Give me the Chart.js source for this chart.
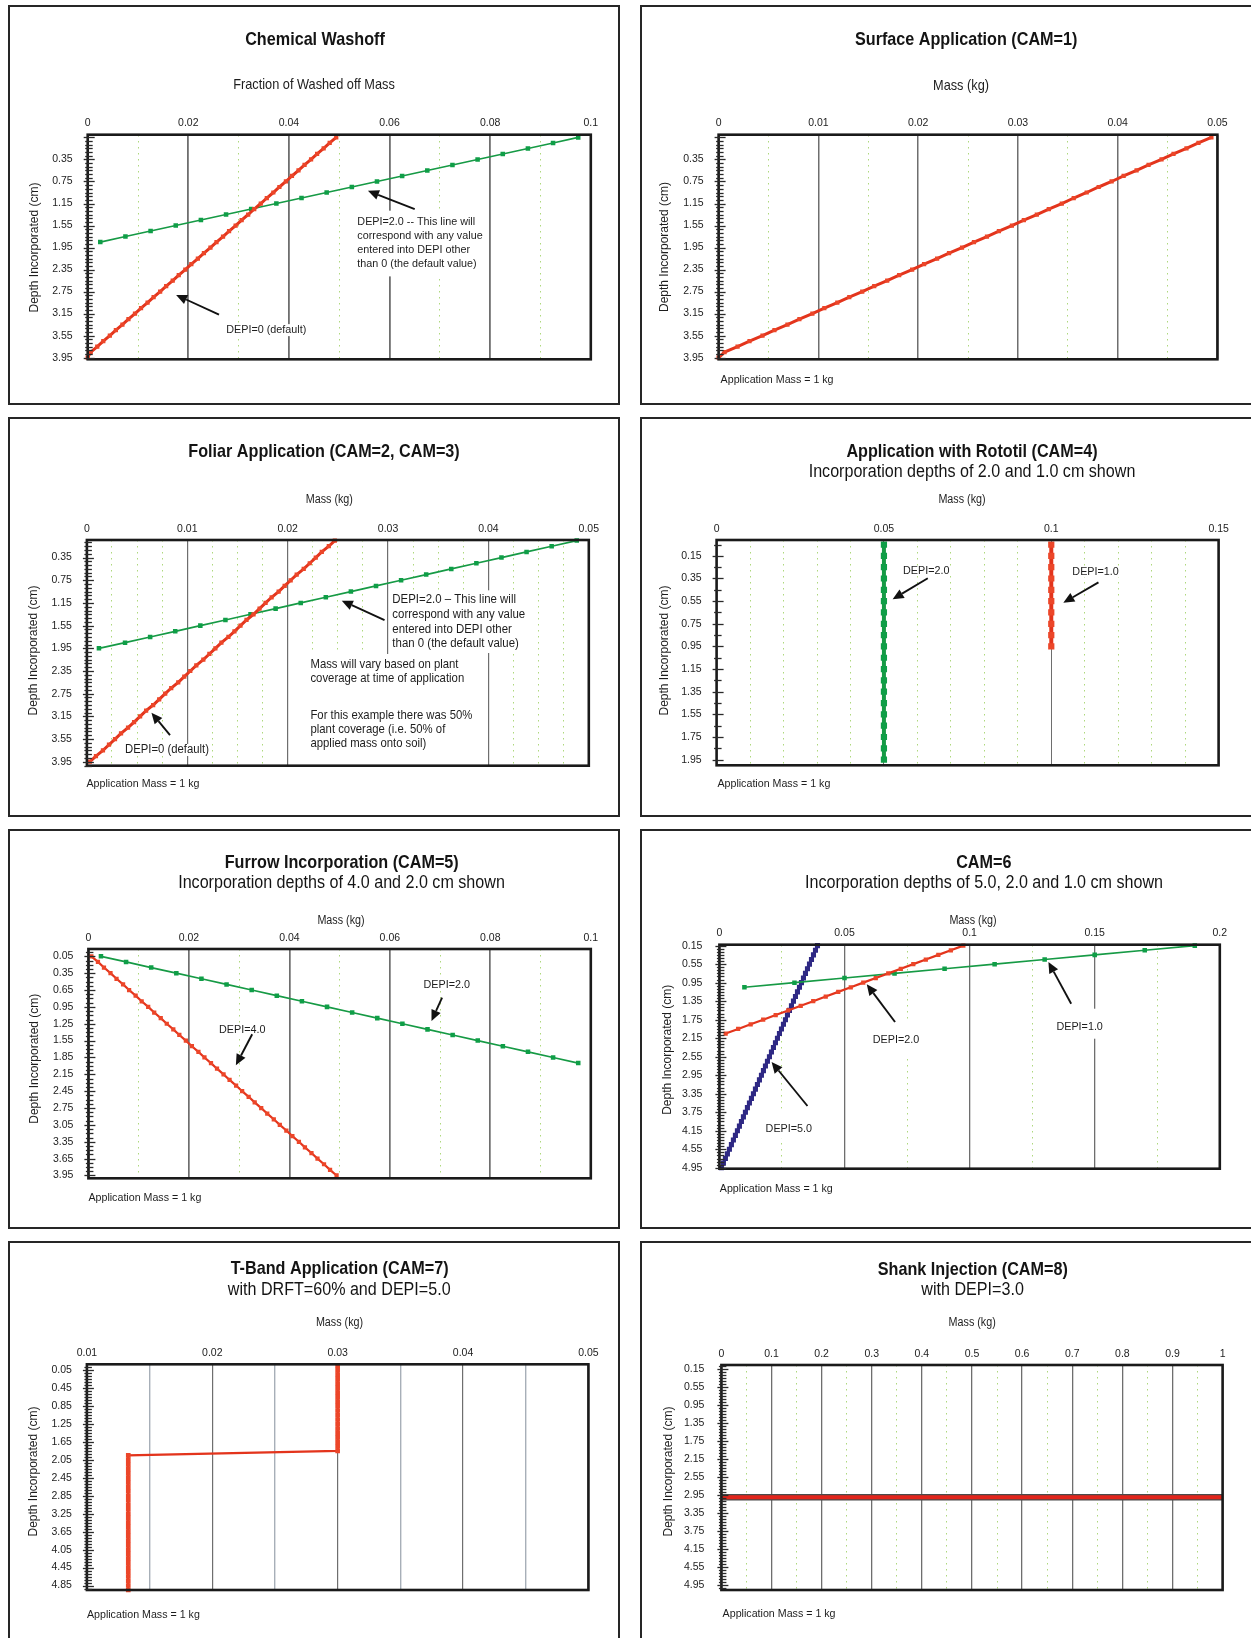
<!DOCTYPE html>
<html>
<head>
<meta charset="utf-8">
<title>Chemical application methods – mass vs. depth</title>
<script src="https://cdn.jsdelivr.net/npm/chart.js@4.4.1/dist/chart.umd.min.js"></script>
<style>
  html, body { margin: 0; padding: 0; background: #fff; }
  #page { position: relative; width: 1251px; height: 1638px; overflow: hidden; background: #fff; }
  .panel { position: absolute; border: 2px solid #262626; box-sizing: border-box; background: #fff; }
  .panel canvas { position: absolute; left: 0; top: 0; }
</style>
</head>
<body>
<div id="page"></div>
<script>
// ---------------------------------------------------------------------------
// Depth grids (cm)
// ---------------------------------------------------------------------------
const depthM005to395 = [-0.05, 0.05, 0.15, 0.25, 0.35, 0.45, 0.55, 0.65, 0.75, 0.85,
  0.95, 1.05, 1.15, 1.25, 1.35, 1.45, 1.55, 1.65, 1.75, 1.85,
  1.95, 2.05, 2.15, 2.25, 2.35, 2.45, 2.55, 2.65, 2.75, 2.85,
  2.95, 3.05, 3.15, 3.25, 3.35, 3.45, 3.55, 3.65, 3.75, 3.85, 3.95];
const depthM005to185 = [-0.05, 0.05, 0.15, 0.25, 0.35, 0.45, 0.55, 0.65, 0.75, 0.85,
  0.95, 1.05, 1.15, 1.25, 1.35, 1.45, 1.55, 1.65, 1.75, 1.85];
const depth005to395 = [0.05, 0.15, 0.25, 0.35, 0.45, 0.55, 0.65, 0.75, 0.85, 0.95,
  1.05, 1.15, 1.25, 1.35, 1.45, 1.55, 1.65, 1.75, 1.85, 1.95,
  2.05, 2.15, 2.25, 2.35, 2.45, 2.55, 2.65, 2.75, 2.85, 2.95,
  3.05, 3.15, 3.25, 3.35, 3.45, 3.55, 3.65, 3.75, 3.85, 3.95];
const depth005to195 = [0.05, 0.15, 0.25, 0.35, 0.45, 0.55, 0.65, 0.75, 0.85, 0.95,
  1.05, 1.15, 1.25, 1.35, 1.45, 1.55, 1.65, 1.75, 1.85, 1.95];
const depth005to095 = [0.05, 0.15, 0.25, 0.35, 0.45, 0.55, 0.65, 0.75, 0.85, 0.95];
const depth015to495 = [0.15, 0.25, 0.35, 0.45, 0.55, 0.65, 0.75, 0.85, 0.95, 1.05,
  1.15, 1.25, 1.35, 1.45, 1.55, 1.65, 1.75, 1.85, 1.95, 2.05,
  2.15, 2.25, 2.35, 2.45, 2.55, 2.65, 2.75, 2.85, 2.95, 3.05,
  3.15, 3.25, 3.35, 3.45, 3.55, 3.65, 3.75, 3.85, 3.95, 4.05,
  4.15, 4.25, 4.35, 4.45, 4.55, 4.65, 4.75, 4.85, 4.95];
const depth015to205 = [0.15, 0.25, 0.35, 0.45, 0.55, 0.65, 0.75, 0.85, 0.95, 1.05,
  1.15, 1.25, 1.35, 1.45, 1.55, 1.65, 1.75, 1.85, 1.95, 2.05];
const depth015to105 = [0.15, 0.25, 0.35, 0.45, 0.55, 0.65, 0.75, 0.85, 0.95, 1.05];
const tbandDepth = [-0.05, 0.05, 0.15, 0.25, 0.35, 0.45, 0.55, 0.65, 0.75, 0.85,
  0.95, 1.05, 1.15, 1.25, 1.35, 1.45, 1.55, 1.65, 1.75, 1.85,
  1.95, 2.05, 2.15, 2.25, 2.35, 2.45, 2.55, 2.65, 2.75, 2.85,
  2.95, 3.05, 3.15, 3.25, 3.35, 3.45, 3.55, 3.65, 3.75, 3.85,
  3.95, 4.05, 4.15, 4.25, 4.35, 4.45, 4.55, 4.65, 4.75, 4.85, 4.95];
const shankDepth = [3.0, 3.0];

// ---------------------------------------------------------------------------
// Mass per depth (kg, application mass = 1 kg)
// ---------------------------------------------------------------------------
// DEPI=0 default: linear over 4 cm
const washoffMassDefault = [0.0494, 0.0481, 0.0469, 0.0456, 0.0444, 0.0431, 0.0419, 0.0406, 0.0394, 0.0381,
  0.0369, 0.0356, 0.0344, 0.0331, 0.0319, 0.0306, 0.0294, 0.0281, 0.0269, 0.0256,
  0.0244, 0.0231, 0.0219, 0.0206, 0.0194, 0.0181, 0.0169, 0.0156, 0.0144, 0.0131,
  0.0119, 0.0106, 0.0094, 0.0081, 0.0069, 0.0056, 0.0044, 0.0031, 0.0019, 0.0006, 0];
const washoffMassDepi2 = [0.0975, 0.0925, 0.0875, 0.0825, 0.0775, 0.0725, 0.0675, 0.0625, 0.0575, 0.0525,
  0.0475, 0.0425, 0.0375, 0.0325, 0.0275, 0.0225, 0.0175, 0.0125, 0.0075, 0.0025];
const surfaceMass = [0.0494, 0.0481, 0.0469, 0.0456, 0.0444, 0.0431, 0.0419, 0.0406, 0.0394, 0.0381,
  0.0369, 0.0356, 0.0344, 0.0331, 0.0319, 0.0306, 0.0294, 0.0281, 0.0269, 0.0256,
  0.0244, 0.0231, 0.0219, 0.0206, 0.0194, 0.0181, 0.0169, 0.0156, 0.0144, 0.0131,
  0.0119, 0.0106, 0.0094, 0.0081, 0.0069, 0.0056, 0.0044, 0.0031, 0.0019, 0.0006, 0];
const foliarMassDefault = [0.0247, 0.0241, 0.0234, 0.0228, 0.0222, 0.0216, 0.0209, 0.0203, 0.0197, 0.0191,
  0.0184, 0.0178, 0.0172, 0.0166, 0.0159, 0.0153, 0.0147, 0.0141, 0.0134, 0.0128,
  0.0122, 0.0116, 0.0109, 0.0103, 0.0097, 0.0091, 0.0084, 0.0078, 0.0072, 0.0066,
  0.0059, 0.0053, 0.0047, 0.0041, 0.0034, 0.0028, 0.0022, 0.0016, 0.0009, 0.0003];
const foliarMassDepi2 = [0.0488, 0.0463, 0.0438, 0.0413, 0.0388, 0.0363, 0.0338, 0.0313, 0.0288, 0.0263,
  0.0238, 0.0213, 0.0188, 0.0163, 0.0138, 0.0113, 0.0088, 0.0063, 0.0038, 0.0012];
const rototilMassDepi2 = [0.05, 0.05, 0.05, 0.05, 0.05, 0.05, 0.05, 0.05, 0.05, 0.05,
  0.05, 0.05, 0.05, 0.05, 0.05, 0.05, 0.05, 0.05, 0.05, 0.05];
const rototilMassDepi1 = [0.1, 0.1, 0.1, 0.1, 0.1, 0.1, 0.1, 0.1, 0.1, 0.1];
const furrowMassDepi4 = [0.0006, 0.0019, 0.0031, 0.0044, 0.0056, 0.0069, 0.0081, 0.0094, 0.0106, 0.0119,
  0.0131, 0.0144, 0.0156, 0.0169, 0.0181, 0.0194, 0.0206, 0.0219, 0.0231, 0.0244,
  0.0256, 0.0269, 0.0281, 0.0294, 0.0306, 0.0319, 0.0331, 0.0344, 0.0356, 0.0369,
  0.0381, 0.0394, 0.0406, 0.0419, 0.0431, 0.0444, 0.0456, 0.0469, 0.0481, 0.0494];
const furrowMassDepi2 = [0.0025, 0.0075, 0.0125, 0.0175, 0.0225, 0.0275, 0.0325, 0.0375, 0.0425, 0.0475,
  0.0525, 0.0575, 0.0625, 0.0675, 0.0725, 0.0775, 0.0825, 0.0875, 0.0925, 0.0975];
const cam6MassDepi5 = [0.0392, 0.0384, 0.0376, 0.0368, 0.0360, 0.0352, 0.0344, 0.0336, 0.0328, 0.0320,
  0.0312, 0.0304, 0.0296, 0.0288, 0.0280, 0.0272, 0.0264, 0.0256, 0.0248, 0.0240,
  0.0232, 0.0224, 0.0216, 0.0208, 0.0200, 0.0192, 0.0184, 0.0176, 0.0168, 0.0160,
  0.0152, 0.0144, 0.0136, 0.0128, 0.0120, 0.0112, 0.0104, 0.0096, 0.0088, 0.0080,
  0.0072, 0.0064, 0.0056, 0.0048, 0.0040, 0.0032, 0.0024, 0.0016, 0.0008];
const cam6MassDepi2 = [0.0975, 0.0925, 0.0875, 0.0825, 0.0775, 0.0725, 0.0675, 0.0625, 0.0575, 0.0525,
  0.0475, 0.0425, 0.0375, 0.0325, 0.0275, 0.0225, 0.0175, 0.0125, 0.0075, 0.0025];
const cam6MassDepi1 = [0.19, 0.17, 0.15, 0.13, 0.11, 0.09, 0.07, 0.05, 0.03, 0.01];
const tbandMass = [0.03, 0.03, 0.03, 0.03, 0.03, 0.03, 0.03, 0.03, 0.03, 0.03,
  0.03, 0.03, 0.03, 0.03, 0.03, 0.03, 0.03, 0.03, 0.03, 0.03,
  0.0133, 0.0133, 0.0133, 0.0133, 0.0133, 0.0133, 0.0133, 0.0133, 0.0133, 0.0133,
  0.0133, 0.0133, 0.0133, 0.0133, 0.0133, 0.0133, 0.0133, 0.0133, 0.0133, 0.0133,
  0.0133, 0.0133, 0.0133, 0.0133, 0.0133, 0.0133, 0.0133, 0.0133, 0.0133, 0.0133, 0.0133];
const shankMass = [0, 1];

// ---------------------------------------------------------------------------
// Tick labels
// ---------------------------------------------------------------------------
const massLabels010 = ['0', '0.02', '0.04', '0.06', '0.08', '0.1'];
const massLabels005 = ['0', '0.01', '0.02', '0.03', '0.04', '0.05'];
const rototilXLabels = ['0', '0.05', '0.1', '0.15'];
const cam6XLabels = ['0', '0.05', '0.1', '0.15', '0.2'];
const tbandXLabels = ['0.01', '0.02', '0.03', '0.04', '0.05'];
const shankXLabels = ['0', '0.1', '0.2', '0.3', '0.4', '0.5', '0.6', '0.7', '0.8', '0.9', '1'];
const depthLabels4cm = ['0.35', '0.75', '1.15', '1.55', '1.95', '2.35', '2.75', '3.15', '3.55', '3.95'];
const rototilYLabels = ['0.15', '0.35', '0.55', '0.75', '0.95', '1.15', '1.35', '1.55', '1.75', '1.95'];
const furrowYLabels = ['0.05', '0.35', '0.65', '0.95', '1.25', '1.55', '1.85', '2.15', '2.45', '2.75', '3.05', '3.35', '3.65', '3.95'];
const depthLabels5cm = ['0.15', '0.55', '0.95', '1.35', '1.75', '2.15', '2.55', '2.95', '3.35', '3.75', '4.15', '4.55', '4.95'];
const tbandYLabels = ['0.05', '0.45', '0.85', '1.25', '1.65', '2.05', '2.45', '2.85', '3.25', '3.65', '4.05', '4.45', '4.85'];

// ---------------------------------------------------------------------------
// Drawing helpers
// ---------------------------------------------------------------------------
const FONT = '"Liberation Sans", Arial, Helvetica, sans-serif';
const INK = '#1d1d1d';
const RED = '#e3341c', RED_PT = '#ec4629';
const GREEN = '#169a45', GREEN_PT = '#0f9e47';
const BLUE = '#2e2884';

function setFont(ctx, size, bold) { ctx.font = (bold ? 'bold ' : '') + size + 'px ' + FONT; }

function drawText(ctx, s, x, y, o) {
  const size = o.size || 12, sx = o.sx || 1;
  ctx.save();
  setFont(ctx, size, o.bold);
  const w = ctx.measureText(s).width * sx;
  const x0 = o.align === 'center' ? x - w / 2 : (o.align === 'right' ? x - w : x);
  ctx.translate(x0, y);
  ctx.scale(sx, 1);
  ctx.fillStyle = o.color || INK;
  ctx.textAlign = 'left';
  ctx.textBaseline = 'middle';
  ctx.fillText(s, 0, 0);
  ctx.restore();
  return w;
}

function drawVertical(ctx, s, x, y, size) {
  ctx.save();
  setFont(ctx, size, false);
  ctx.translate(x, y);
  ctx.rotate(-Math.PI / 2);
  ctx.fillStyle = INK;
  ctx.textAlign = 'center';
  ctx.textBaseline = 'middle';
  ctx.fillText(s, 0, 0);
  ctx.restore();
}

function drawArrow(ctx, x1, y1, x2, y2) {
  const a = Math.atan2(y2 - y1, x2 - x1), hl = 11, hw = 5;
  const bx = x2 - hl * Math.cos(a), by = y2 - hl * Math.sin(a);
  ctx.save();
  ctx.strokeStyle = '#111'; ctx.fillStyle = '#111'; ctx.lineWidth = 1.9;
  ctx.beginPath(); ctx.moveTo(x1, y1); ctx.lineTo(bx, by); ctx.stroke();
  ctx.beginPath();
  ctx.moveTo(x2, y2);
  ctx.lineTo(bx + hw * Math.sin(a), by - hw * Math.cos(a));
  ctx.lineTo(bx - hw * Math.sin(a), by + hw * Math.cos(a));
  ctx.closePath(); ctx.fill();
  ctx.restore();
}

// Ticks: labelled values from the label list, with evenly spaced unlabelled ticks between them
function tickList(labels, minorDiv, min, max) {
  const v0 = Number(labels[0]);
  const step = (Number(labels[1]) - v0) / minorDiv;
  const eps = step * 1e-3;
  const out = [];
  for (let k = Math.ceil((min - v0) / step - 1e-6); v0 + k * step <= max + eps; k++) {
    const major = ((k % minorDiv) + minorDiv) % minorDiv === 0;
    const li = major ? Math.round(k / minorDiv) : -1;
    out.push({ value: +(v0 + k * step).toFixed(6), major: major,
               text: (li >= 0 && li < labels.length) ? labels[li] : '' });
  }
  return out;
}

function series(xs, ys, style) {
  return Object.assign({
    data: xs.map((v, i) => ({ x: v, y: ys[i] })),
    showLine: true, tension: 0, fill: false, pointStyle: 'rect', pointBorderWidth: 0, clip: 6
  }, style);
}

const redThick  = { borderColor: RED, borderWidth: 3, pointBackgroundColor: RED_PT, pointRadius: 3 };
const redMid    = { borderColor: RED, borderWidth: 2.2, pointBackgroundColor: RED_PT, pointRadius: 3 };
const greenLine = { borderColor: GREEN, borderWidth: 1.7, pointBackgroundColor: GREEN_PT, pointRadius: 3.2 };
const greenWide = { borderColor: GREEN, borderWidth: 4, pointBackgroundColor: GREEN_PT, pointRadius: 4.4 };
const redWide   = { borderColor: RED, borderWidth: 4, pointBackgroundColor: RED_PT, pointRadius: 4.4 };
const blueDense = { borderColor: BLUE, borderWidth: 3, pointBackgroundColor: BLUE, pointRadius: 3.6 };
const redDense  = { borderColor: RED, borderWidth: 2.4, pointBackgroundColor: RED_PT, pointRadius: 3.3 };

const GRID_MAJOR = '#6e6e6e';
const GRID_MINOR = 'rgba(140,200,70,0.7)';
const GRID_DASH = [1.5, 4.5];

// ---------------------------------------------------------------------------
// Panels
// ---------------------------------------------------------------------------
const NOTE = { size: 11.6, sx: 0.93, lh: 13.9 };
const panels = [
  {
    box: [8, 5, 612, 400], pad: { left: 37.7, top: 107.7, right: 27.2, bottom: 43.7 },
    x: { min: 0, max: 0.1, labels: massLabels010, minorDiv: 2, majorWidth: 1.8 },
    y: { min: -0.1, max: 3.98, labels: depthLabels4cm, minorDiv: 6 },
    datasets: [series(washoffMassDefault, depthM005to395, redThick), series(washoffMassDepi2, depthM005to185, greenLine)],
    title: ['Chemical Washoff', 305, 33], xTitle: ['Fraction of Washed off Mass', 304, 78, 14.5, 0.88], yTitle: [24.5, 240.5],
    notes: [
      { lines: ['DEPI=2.0 -- This line will', 'correspond with any value', 'entered into DEPI other', 'than 0 (the default value)'], at: [0.0536, 1.48], pad: [11, 5, 13, 3] },
      { lines: ['DEPI=0 (default)'], at: [0.02755, 3.45], pad: [6, 3, 6, 3] }
    ],
    arrows: [[0.065, 1.25, 0.0557, 0.92], [0.0261, 3.17, 0.01757, 2.81]]
  },
  {
    box: [640, 5, 613, 400], pad: { left: 36.6, top: 107.7, right: 33.6, bottom: 43.7 },
    x: { min: 0, max: 0.05, labels: massLabels005, minorDiv: 2, majorWidth: 1.5 },
    y: { min: -0.1, max: 3.98, labels: depthLabels4cm, minorDiv: 6 },
    datasets: [series(surfaceMass, depthM005to395, redThick)],
    title: ['Surface Application (CAM=1)', 324.2, 33], xTitle: ['Mass (kg)', 319, 78.5, 14.5, 0.88], yTitle: [23, 240],
    appMass: [78.6, 373]
  },
  {
    box: [8, 417, 612, 400], pad: { left: 36.9, top: 101, right: 29.2, bottom: 49.3 },
    x: { min: 0, max: 0.05, labels: massLabels005, minorDiv: 4, majorWidth: 1.2 },
    y: { min: 0.04, max: 4.02, labels: depthLabels4cm, minorDiv: 6 },
    datasets: [series(foliarMassDefault, depth005to395, redThick), series(foliarMassDepi2, depth005to195, greenLine)],
    title: ['Foliar Application (CAM=2, CAM=3)', 314, 33.3], xTitle: ['Mass (kg)', 319.3, 80.3, 12.5, 0.86], yTitle: [23.4, 231.5],
    appMass: [76.5, 364.3],
    notes: [
      { lines: ['DEPI=2.0 \u2013 This line will', 'correspond with any value', 'entered into DEPI other', 'than 0 (the default value)'], at: [0.03043, 1.086], size: 12.3, sx: 0.93, lh: 14.9, pad: [9, 5, 9, 2] },
      { lines: ['Mass will vary based on plant', 'coverage at time of application'], at: [0.02227, 2.244], size: 12.6, sx: 0.9, lh: 13.3, pad: [11, 9, 20, 6] },
      { lines: ['For this example there was 50%', 'plant coverage (i.e. 50% of', 'applied mass onto soil)'], at: [0.02227, 3.143], size: 12.6, sx: 0.9, lh: 13.9, pad: [19, 9, 22, 6] },
      { lines: ['DEPI=0 (default)'], at: [0.0038, 3.743], size: 12.3, sx: 0.92, pad: [6, 3, 6, 3] }
    ],
    arrows: [[0.02965, 1.451, 0.02539, 1.11], [0.00828, 3.479, 0.00643, 3.085]]
  },
  {
    box: [640, 417, 613, 400], pad: { left: 34.6, top: 101, right: 32.4, bottom: 49.7 },
    x: { min: 0, max: 0.15, labels: rototilXLabels, minorDiv: 5, majorWidth: 1 },
    y: { min: 0.01, max: 2.0, labels: rototilYLabels, minorDiv: 2 },
    datasets: [series(rototilMassDepi1, depth005to095, redWide), series(rototilMassDepi2, depth005to195, greenWide)],
    title: ['Application with Rototil (CAM=4)', 330, 33.3], subtitle: ['Incorporation depths of 2.0 and 1.0 cm shown', 330, 53.3],
    xTitle: ['Mass (kg)', 320, 80.3, 12.5, 0.86], yTitle: [23, 231.5],
    appMass: [75.4, 364.3],
    notes: [
      { lines: ['DEPI=2.0'], at: [0.0557, 0.284], pad: [5, 3, 5, 3] },
      { lines: ['DEPI=1.0'], at: [0.1063, 0.295], pad: [5, 3, 5, 3] }
    ],
    arrows: [[0.0631, 0.348, 0.0526, 0.534], [0.1141, 0.384, 0.1036, 0.564]]
  },
  {
    box: [8, 829, 612, 400], pad: { left: 38.4, top: 98, right: 27.2, bottom: 48.7 },
    x: { min: 0, max: 0.1, labels: massLabels010, minorDiv: 2, majorWidth: 1.7 },
    y: { min: -0.08, max: 4.0, labels: furrowYLabels, minorDiv: 4 },
    datasets: [series(furrowMassDepi4, depth005to395, redMid), series(furrowMassDepi2, depth005to195, greenLine)],
    title: ['Furrow Incorporation (CAM=5)', 331.7, 32.3], subtitle: ['Incorporation depths of 4.0 and 2.0 cm shown', 331.5, 52.3],
    xTitle: ['Mass (kg)', 331, 90, 12.5, 0.86], yTitle: [24.5, 227.7],
    appMass: [78.4, 366.3],
    notes: [
      { lines: ['DEPI=2.0'], at: [0.0667, 0.561], pad: [6, 3, 6, 3] },
      { lines: ['DEPI=4.0'], at: [0.026, 1.349], pad: [6, 3, 6, 3] }
    ],
    arrows: [[0.0704, 0.787, 0.0683, 1.201], [0.0326, 1.438, 0.02936, 1.989]]
  },
  {
    box: [640, 829, 613, 400], pad: { left: 37.4, top: 93.7, right: 31.2, bottom: 58.3 },
    x: { min: 0, max: 0.2, labels: cam6XLabels, minorDiv: 2, majorWidth: 1.3 },
    y: { min: 0.13, max: 4.97, labels: depthLabels5cm, minorDiv: 6, pad: 9 },
    datasets: [series(cam6MassDepi2, depth015to205, redMid), series(cam6MassDepi1, depth015to105, greenLine), series(cam6MassDepi5, depth015to495, blueDense)],
    title: ['CAM=6', 341.8, 32.3], subtitle: ['Incorporation depths of 5.0, 2.0 and 1.0 cm shown', 342, 52.3],
    xTitle: ['Mass (kg)', 331, 90, 12.5, 0.86], yTitle: [26, 218.8],
    appMass: [77.8, 357.7],
    notes: [
      { lines: ['DEPI=2.0'], at: [0.0613, 2.189], pad: [18, 3, 15, 3] },
      { lines: ['DEPI=1.0'], at: [0.1347, 1.902], pad: [18, 3, 12, 3] },
      { lines: ['DEPI=5.0'], at: [0.01847, 4.106], pad: [20, 3, 10, 3] }
    ],
    arrows: [[0.0702, 1.80, 0.0589, 0.986], [0.1406, 1.405, 0.1315, 0.504], [0.0352, 3.615, 0.02086, 2.664]]
  },
  {
    box: [8, 1241, 612, 400], pad: { left: 36.9, top: 101.3, right: 29.6, bottom: 49 },
    x: { min: 0.01, max: 0.05, labels: tbandXLabels, minorDiv: 2, majorWidth: 1.2,
         minorColor: '#a7afb8', minorWidth: 1.4, minorDash: [] },
    y: { min: -0.08, max: 4.95, labels: tbandYLabels, minorDiv: 6 },
    datasets: [series(tbandMass, tbandDepth, redDense)],
    title: ['T-Band Application (CAM=7)', 329.6, 26.3], subtitle: ['with DRFT=60% and DEPI=5.0', 329.2, 47],
    xTitle: ['Mass (kg)', 329.5, 79.3, 12.5, 0.86], yTitle: [23.4, 228.5],
    appMass: [76.9, 372]
  },
  {
    box: [640, 1241, 613, 400], pad: { left: 39.4, top: 102, right: 28.4, bottom: 49 },
    x: { min: 0, max: 1, labels: shankXLabels, minorDiv: 2, majorWidth: 1.3 },
    y: { min: 0.06, max: 5.06, labels: depthLabels5cm, minorDiv: 6, pad: 9 },
    datasets: [
      series(shankMass, shankDepth, { borderColor: '#e2251b', borderWidth: 4, pointRadius: 0 }),
      series(shankMass, shankDepth, { borderColor: '#4b4b4b', borderWidth: 6.5, pointRadius: 0 })
    ],
    title: ['Shank Injection (CAM=8)', 330.8, 26.7], subtitle: ['with DEPI=3.0', 330.6, 47],
    xTitle: ['Mass (kg)', 330.2, 80, 12.5, 0.86], yTitle: [27, 228.5],
    appMass: [80.6, 371]
  }
];

// ---------------------------------------------------------------------------
// Decorations drawn around each chart: frame, depth ticks, titles, notes, arrows
// ---------------------------------------------------------------------------
function decorPlugin(p) {
  const noteOpt = n => Object.assign({}, NOTE, n);
  return {
    id: 'panelDecor',
    beforeDatasetsDraw(chart) {
      const ctx = chart.ctx, xs = chart.scales.x, ys = chart.scales.y;
      (p.notes || []).forEach(raw => {
        const n = noteOpt(raw);
        const px = xs.getPixelForValue(n.at[0]), py = ys.getPixelForValue(n.at[1]);
        ctx.save();
        setFont(ctx, n.size, false);
        const w = Math.max.apply(null, n.lines.map(l => ctx.measureText(l).width)) * n.sx;
        ctx.fillStyle = '#fff';
        ctx.fillRect(px - n.pad[3], py - n.pad[0], w + n.pad[1] + n.pad[3], (n.lines.length - 1) * n.lh + n.pad[0] + n.pad[2]);
        ctx.restore();
      });
    },
    afterDatasetsDraw(chart) {
      const ctx = chart.ctx, a = chart.chartArea, xs = chart.scales.x, ys = chart.scales.y;
      // plot frame
      ctx.save();
      ctx.strokeStyle = '#1a1a1a';
      ctx.lineWidth = 2.6;
      ctx.strokeRect(a.left, a.top, a.right - a.left, a.bottom - a.top);
      // depth ticks crossing the left edge
      ctx.strokeStyle = '#2a2a2a';
      ctx.lineWidth = 1.3;
      ys.ticks.forEach(t => {
        const y = Math.round(ys.getPixelForValue(t.value)) + 0.5;
        ctx.beginPath();
        ctx.moveTo(a.left - (t.major ? 4 : 2.5), y);
        ctx.lineTo(a.left + (t.major ? 7 : 5), y);
        ctx.stroke();
      });
      ctx.restore();
      // notes
      (p.notes || []).forEach(raw => {
        const n = noteOpt(raw);
        const px = xs.getPixelForValue(n.at[0]), py = ys.getPixelForValue(n.at[1]);
        n.lines.forEach((l, i) => drawText(ctx, l, px, py + i * n.lh, { size: n.size, sx: n.sx }));
      });
      (p.arrows || []).forEach(r => drawArrow(ctx,
        xs.getPixelForValue(r[0]), ys.getPixelForValue(r[1]),
        xs.getPixelForValue(r[2]), ys.getPixelForValue(r[3])));
    },
    afterDraw(chart) {
      const ctx = chart.ctx;
      drawText(ctx, p.title[0], p.title[1], p.title[2], { size: 18.6, bold: true, sx: 0.87, align: 'center', color: '#141414' });
      if (p.subtitle) drawText(ctx, p.subtitle[0], p.subtitle[1], p.subtitle[2], { size: 17.5, sx: 0.92, align: 'center', color: '#141414' });
      drawText(ctx, p.xTitle[0], p.xTitle[1], p.xTitle[2], { size: p.xTitle[3], sx: p.xTitle[4], align: 'center' });
      drawVertical(ctx, 'Depth Incorporated (cm)', p.yTitle[0], p.yTitle[1], 12);
      if (p.appMass) drawText(ctx, 'Application Mass = 1 kg', p.appMass[0], p.appMass[1], { size: 11.6, sx: 0.92 });
    }
  };
}

function xAxis(o) {
  const list = tickList(o.labels, o.minorDiv, o.min, o.max);
  const minorColor = o.minorColor || GRID_MINOR;
  const minorWidth = o.minorWidth || 1;
  const minorDash = o.minorDash || GRID_DASH;
  return {
    type: 'linear', position: 'top', min: o.min, max: o.max, bounds: 'data',
    afterBuildTicks: s => { s.ticks = list.map(t => Object.assign({}, t)); },
    afterFit: s => { s.height = 20; },
    ticks: {
      autoSkip: false, maxRotation: 0, minRotation: 0, padding: 5, color: '#222',
      font: { family: FONT, size: 10.5 },
      callback: (v, i, ticks) => ticks[i].text
    },
    grid: {
      drawTicks: false,
      color: c => (c.tick && c.tick.major) ? GRID_MAJOR : minorColor,
      lineWidth: c => (c.tick && c.tick.major) ? o.majorWidth : minorWidth
    },
    border: { display: false, dash: c => (c.tick && c.tick.major) ? [] : minorDash }
  };
}

function yAxis(o) {
  const list = tickList(o.labels, o.minorDiv, o.min, o.max);
  return {
    type: 'linear', position: 'left', reverse: true, min: o.min, max: o.max, bounds: 'data',
    afterBuildTicks: s => { s.ticks = list.map(t => Object.assign({}, t)); },
    afterFit: s => { s.width = 40; },
    ticks: {
      autoSkip: false, padding: o.pad || 7, color: '#222',
      font: { family: FONT, size: 10.5 },
      callback: (v, i, ticks) => ticks[i].text
    },
    grid: { display: false },
    border: { display: false }
  };
}

const page = document.getElementById('page');
panels.forEach(p => {
  const [bx, by, bw, bh] = p.box;
  const div = document.createElement('div');
  div.className = 'panel';
  Object.assign(div.style, { left: bx + 'px', top: by + 'px', width: bw + 'px', height: bh + 'px' });
  const cv = document.createElement('canvas');
  const cw = bw - 4, ch = bh - 4;
  cv.width = cw; cv.height = ch;
  cv.style.width = cw + 'px'; cv.style.height = ch + 'px';
  div.appendChild(cv);
  page.appendChild(div);

  new Chart(cv, {
    type: 'scatter',
    data: { datasets: p.datasets },
    options: {
      responsive: false, animation: false, devicePixelRatio: 1, events: [],
      layout: { padding: p.pad },
      plugins: { legend: { display: false }, tooltip: { enabled: false }, title: { display: false } },
      scales: { x: xAxis(p.x), y: yAxis(p.y) }
    },
    plugins: [decorPlugin(p)]
  });
});
</script>
</body>
</html>
